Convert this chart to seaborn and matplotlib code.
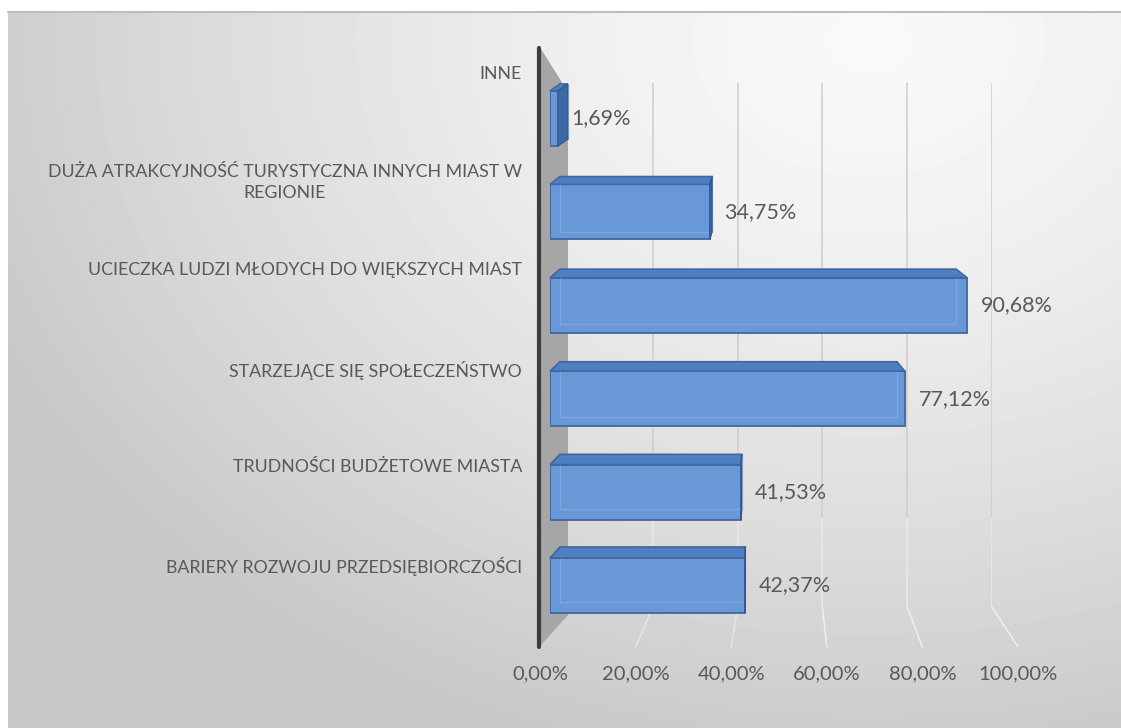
import numpy as np
import matplotlib
matplotlib.use("Agg")
import matplotlib.pyplot as plt
import seaborn as sns
from matplotlib.patches import Polygon
from matplotlib.lines import Line2D
from matplotlib.ticker import FuncFormatter

# dane z wykresu (od gory do dolu)
kategorie = ['INNE',
             'DUŻA ATRAKCYJNOŚĆ TURYSTYCZNA INNYCH MIAST W\nREGIONIE',
             'UCIECZKA LUDZI MŁODYCH DO WIĘKSZYCH MIAST',
             'STARZEJĄCE SIĘ SPOŁECZEŃSTWO',
             'TRUDNOŚCI BUDŻETOWE MIASTA',
             'BARIERY ROZWOJU PRZEDSIĘBIORCZOŚCI']
wartosci = [1.69, 34.75, 90.68, 77.12, 41.53, 42.37]
ticki = [0, 20, 40, 60, 80, 100]

sns.set_style("white")
plt.rcParams['font.family'] = ['Lato', 'DejaVu Sans']
kolor_tekstu = '#595959'

W, H = 1121, 728
fig = plt.figure(figsize=(W / 100, H / 100), dpi=100)


def fr(x0, y0, x1, y1):
    # prostokat w pikselach obrazka -> wspolrzedne figury
    return [x0 / W, 1 - y1 / H, (x1 - x0) / W, (y1 - y0) / H]


def pf(x, y):
    return (x / W, 1 - y / H)


# tlo z gradientem
ax_bg = fig.add_axes(fr(8, 12, W, H), zorder=0)
xs, ys = np.meshgrid(np.linspace(8, W, 300), np.linspace(12, H, 200))
d = np.sqrt((xs - 870) ** 2 + ((ys - 40) * 1.3) ** 2)
tlo = 0.975 - 0.19 * np.clip(d / 950, 0, 1) ** 1.4
ax_bg.imshow(tlo, cmap='gray', vmin=0, vmax=1, aspect='auto', extent=[0, 1, 0, 1],
             interpolation='bilinear')
ax_bg.set_axis_off()
fig.add_artist(Line2D([8 / W, 1], [1 - 12 / H, 1 - 12 / H], color='#bdbdbd', lw=1.5, zorder=0.5))

# tylna sciana z liniami siatki
ax_back = fig.add_axes(fr(568, 83, 992, 607), zorder=1)
ax_back.set_xlim(0, 100)
ax_back.set_ylim(0, 1)
ax_back.set_axis_off()
for t in ticki[1:]:
    ax_back.axvline(t, ymin=0.17, ymax=1, color='#cdcdcd', lw=1.1)
    ax_back.axvline(t, ymin=0, ymax=0.17, color='#eaeaea', lw=1.1)

# podloga z etykietami osi
ax_floor = fig.add_axes(fr(540, 646, 1018, 647), zorder=1)
ax_floor.set_xlim(0, 100)
ax_floor.set_xticks(ticki)
ax_floor.xaxis.set_major_formatter(FuncFormatter(lambda v, p: f"{v:.2f}%".replace('.', ',')))
ax_floor.tick_params(axis='x', length=0, pad=13, labelsize=14.5, labelcolor=kolor_tekstu)
ax_floor.set_yticks([])
ax_floor.patch.set_alpha(0)
for s in ax_floor.spines.values():
    s.set_visible(False)

# linie podlogi (perspektywa)
for t in ticki[1:]:
    xb = ax_back.transData.transform((t, 0))
    xf = ax_floor.transData.transform((t, 0))
    fig.add_artist(Line2D([xb[0] / W, xf[0] / W], [1 - 607 / H, 1 - 647 / H],
                          color='#f2f2f2', lw=1.1, alpha=0.6 if t < 60 else 0.9, zorder=1.5))

# sciana boczna i os
wall = Polygon([pf(541, 49), pf(568, 92), pf(568, 615), pf(541, 645)], closed=True,
               transform=fig.transFigure, facecolor='#a6a6a6', edgecolor='none', zorder=1.6)
fig.add_artist(wall)
fig.add_artist(Line2D([539 / W, 539 / W], [1 - 48 / H, 1 - 647 / H], color='#3c3c3c', lw=3, zorder=1.7))

# etykiety kategorii
ax_lab = fig.add_axes(fr(0, 16.5, 522, 606.5), zorder=1)
ax_lab.set_ylim(5.5, -0.5)
ax_lab.set_axis_off()
for i, k in enumerate(kategorie):
    ax_lab.text(1.0, i, k, transform=ax_lab.get_yaxis_transform(), ha='right', va='top',
                multialignment='center', fontsize=12.8, color=kolor_tekstu, linespacing=1.35)

# slupki
ax = fig.add_axes(fr(550, 71.8, 1010, 632.2), zorder=3)
sns.barplot(x=wartosci, y=kategorie, orient='h', ax=ax, color='#6898d8', saturation=1,
            width=0.59, edgecolor='#41679c', linewidth=1.3)
ax.set_xlim(0, 100)
ax.set_ylim(5.5, -0.5)
ax.set_axis_off()
ax.patch.set_alpha(0)


def to_img(x, y):
    dx, dy = ax.transData.transform((x, y))
    return dx, H - dy


for i, (p, v) in enumerate(zip(ax.patches, wartosci)):
    x0, yt = to_img(p.get_x(), p.get_y())
    x1, yb = to_img(p.get_x() + p.get_width(), p.get_y() + p.get_height())
    if yt > yb:
        yt, yb = yb, yt
    dz = 7 + 0.8 * i
    dx = 10
    dxr = 10 - 0.0512 * (x1 - 558)
    top = Polygon([pf(x0, yt), pf(x0 + dx, yt - dz), pf(x1 + dxr, yt - dz), pf(x1, yt)],
                  closed=True, transform=fig.transFigure, facecolor='#4f7fc2',
                  edgecolor='#41679c', lw=1.2, zorder=4, clip_on=False)
    ax.add_artist(top)
    if dxr > 0:
        side = Polygon([pf(x1, yt), pf(x1 + dxr, yt - dz), pf(x1 + dxr, yb - dz), pf(x1, yb)],
                       closed=True, transform=fig.transFigure, facecolor='#3e67a8',
                       edgecolor='#355a92', lw=1.0, zorder=4, clip_on=False)
        ax.add_artist(side)
    # tylne krawedzie widoczne przez polprzezroczysty slupek
    for xa, ya, xb2, yb2 in [(x0 + dx, yb - dz, x1 + dxr, yb - dz),
                             (x0 + dx, yt - dz, x0 + dx, yb - dz),
                             (x1 + dxr, yt - dz, x1 + dxr, yb - dz)]:
        ln = Line2D([xa / W, xb2 / W], [1 - ya / H, 1 - yb2 / H], transform=fig.transFigure,
                    color='#8db2e6', lw=1.0, alpha=0.55, zorder=3.5, clip_on=False)
        ax.add_artist(ln)
    ax.text(v + 3.0, i, f"{v:.2f}%".replace('.', ','), ha='left', va='center',
            fontsize=15.5, color=kolor_tekstu)

fig.savefig('out.png', dpi=100)
